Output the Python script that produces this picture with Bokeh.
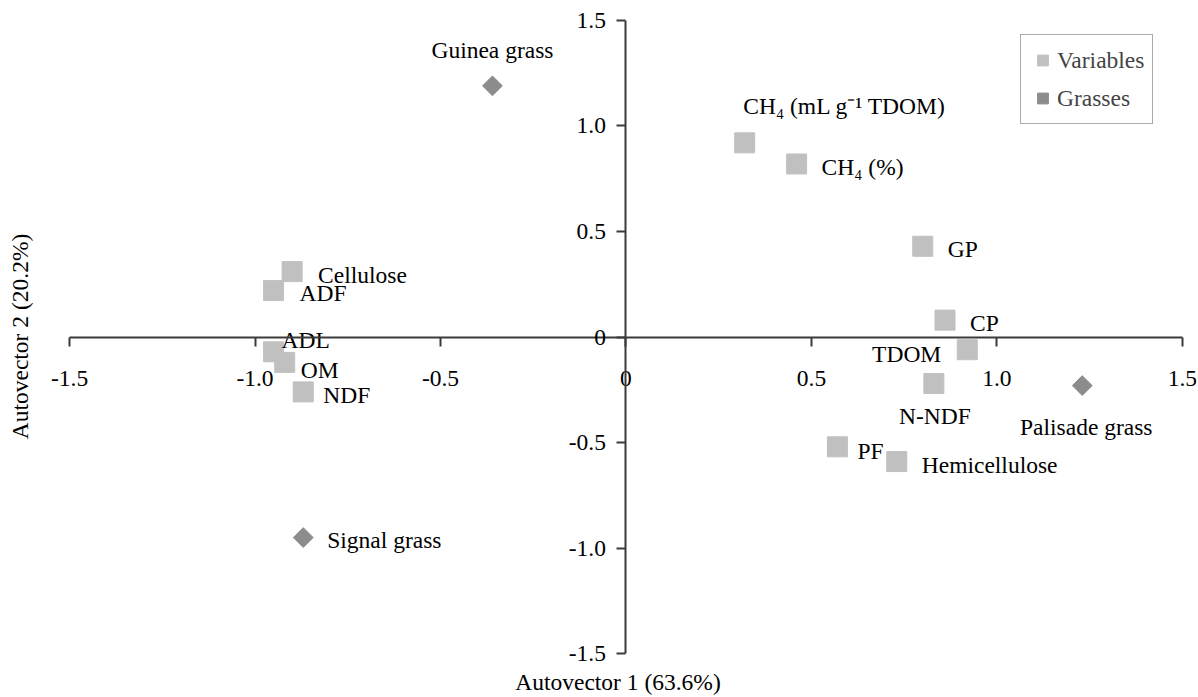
from bokeh.plotting import figure
from bokeh.models import (Range1d, LinearAxis, FixedTicker, ColumnDataSource,
                          Legend, LegendItem)
from bokeh.core.properties import value
from bokeh.embed import file_html
from bokeh.resources import INLINE
import math

# ---- data ----
var_names = ["CH\u2084 (mL g\u207b\u00b9 TDOM)", "CH\u2084 (%)", "GP", "CP", "TDOM", "N-NDF",
             "PF", "Hemicellulose", "Cellulose", "ADF", "ADL", "OM", "NDF"]
var_x = [0.32, 0.46, 0.80, 0.86, 0.92, 0.83, 0.57, 0.73, -0.90, -0.95, -0.95, -0.92, -0.87]
var_y = [0.92, 0.82, 0.43, 0.08, -0.06, -0.22, -0.52, -0.59, 0.31, 0.22, -0.07, -0.12, -0.26]

grass_names = ["Guinea grass", "Palisade grass", "Signal grass"]
grass_x = [-0.36, 1.23, -0.87]
grass_y = [1.19, -0.23, -0.95]

tick_values = [-1.5, -1.0, -0.5, 0, 0.5, 1.0, 1.5]
tick_labels = ["-1.5", "-1.0", "-0.5", "0", "0.5", "1.0", "1.5"]

x_title = "Autovector 1 (63.6%)"
y_title = "Autovector 2 (20.2%)"
legend_labels = ["Variables", "Grasses"]

# ---- label placement styles (pixel offsets, alignment) ----
var_label_style = {
    "CH\u2084 (mL g\u207b\u00b9 TDOM)": (100, -37, "center"),
    "CH\u2084 (%)": (25, 3, "left"),
    "GP": (25, 3, "left"),
    "CP": (25, 3, "left"),
    "TDOM": (-26, 4, "right"),
    "N-NDF": (1, 33, "center"),
    "PF": (20, 4, "left"),
    "Hemicellulose": (25, 3, "left"),
    "Cellulose": (26, 3, "left"),
    "ADF": (26, 2, "left"),
    "ADL": (8, -12, "left"),
    "OM": (16, 8, "left"),
    "NDF": (20, 3, "left"),
}
grass_label_style = {
    "Guinea grass": (0, -36, "center"),
    "Palisade grass": (4, 41, "center"),
    "Signal grass": (24, 2, "left"),
}

FONT = "Liberation Serif"
FS = "23.5px"
AXC = "#3a3a3a"

p = figure(width=1198, height=697,
           x_range=Range1d(-1.581, 1.538), y_range=Range1d(-1.561, 1.566),
           output_backend="svg", toolbar_location=None,
           x_axis_location=None, y_axis_location=None,
           min_border_left=39, min_border_right=2,
           min_border_top=6, min_border_bottom=29)
p.outline_line_color = None
p.xgrid.visible = False
p.ygrid.visible = False
p.background_fill_color = "white"
p.border_fill_color = "white"

overrides = {v: t for v, t in zip(tick_values, tick_labels)}

def style_axis(ax):
    ax.bounds = (tick_values[0], tick_values[-1])
    ax.axis_line_color = AXC
    ax.axis_line_width = 2
    ax.major_tick_line_color = AXC
    ax.major_tick_line_width = 2
    ax.major_tick_in = 0
    ax.major_tick_out = 9
    ax.minor_tick_line_color = None
    ax.major_label_text_font = FONT
    ax.major_label_text_font_size = FS
    ax.major_label_text_color = "black"

xax = LinearAxis(fixed_location=0, ticker=FixedTicker(ticks=tick_values),
                 major_label_overrides=overrides)
style_axis(xax)
xax.major_label_standoff = 25
p.add_layout(xax, "below")

yax = LinearAxis(fixed_location=0, ticker=FixedTicker(ticks=tick_values),
                 major_label_overrides=overrides)
style_axis(yax)
yax.major_label_standoff = 11
p.add_layout(yax, "left")

def title_axis(label, standoff):
    ax = LinearAxis(ticker=FixedTicker(ticks=[]), axis_label=label)
    ax.axis_line_color = None
    ax.major_tick_line_color = None
    ax.minor_tick_line_color = None
    ax.major_tick_in = 0
    ax.major_tick_out = 0
    ax.minor_tick_in = 0
    ax.minor_tick_out = 0
    ax.major_label_text_font_size = "0px"
    ax.axis_label_text_font = FONT
    ax.axis_label_text_font_size = FS
    ax.axis_label_text_font_style = "normal"
    ax.axis_label_text_color = "black"
    ax.axis_label_standoff = standoff
    return ax

p.add_layout(title_axis(x_title, 2), "below")
p.add_layout(title_axis(y_title, 7), "left")

# ---- points ----
var_src = ColumnDataSource(dict(
    x=var_x, y=var_y, name=var_names,
    dx=[var_label_style[n][0] for n in var_names],
    dy=[var_label_style[n][1] for n in var_names],
    align=[var_label_style[n][2] for n in var_names]))
grass_src = ColumnDataSource(dict(
    x=grass_x, y=grass_y, name=grass_names,
    dx=[grass_label_style[n][0] for n in grass_names],
    dy=[grass_label_style[n][1] for n in grass_names],
    align=[grass_label_style[n][2] for n in grass_names]))

r_var = p.scatter("x", "y", source=var_src, marker="square", size=20,
                  fill_color="#c0c0c0", line_color="#c0c0c0")
r_grass = p.scatter("x", "y", source=grass_src, marker="square", size=14,
                    angle=math.pi / 4, fill_color="#8c8c8c", line_color="#8c8c8c")

for src in (var_src, grass_src):
    p.text("x", "y", text="name", source=src, x_offset="dx", y_offset="dy",
           text_align="align", text_baseline="middle",
           text_font=value(FONT), text_font_size=value(FS), text_color="black")

legend = Legend(items=[LegendItem(label=legend_labels[0], renderers=[r_var]),
                       LegendItem(label=legend_labels[1], renderers=[r_grass])],
                location=(981, 542), margin=0, padding=8, spacing=4,
                glyph_width=27, glyph_height=34, label_standoff=1,
                label_text_font=FONT, label_text_font_size=FS,
                label_height=34,
                border_line_color="#555555", border_line_width=1,
                background_fill_color="white", background_fill_alpha=1)
p.add_layout(legend)

open("out.html", "w").write(file_html(p, INLINE))
